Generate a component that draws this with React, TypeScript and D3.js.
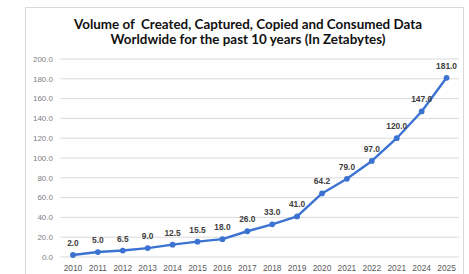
import React from 'react';
import * as d3 from 'd3';

const years = ['2010', '2011', '2012', '2013', '2014', '2015', '2016', '2017', '2018', '2019', '2020', '2021', '2022', '2021', '2024', '2025'];
const volumes = [2.0, 5.0, 6.5, 9.0, 12.5, 15.5, 18.0, 26.0, 33.0, 41.0, 64.2, 79.0, 97.0, 120.0, 147.0, 181.0];
const yTicks = [0, 20, 40, 60, 80, 100, 120, 140, 160, 180, 200];
const titleLines = ['Volume of  Created, Captured, Copied and Consumed Data', 'Worldwide for the past 10 years (In Zetabytes)'];

function App() {
  const width = 469, height = 274;

  // x as band over index, since the labels repeat "2021"
  const x = d3.scaleBand<number>()
    .domain(years.map((d, i) => i))
    .range([60.5, 459]);
  const y = d3.scaleLinear()
    .domain([0, 200])
    .range([257, 59]);

  const cx = (i: number) => (x(i) as number) + x.bandwidth() / 2;

  const line = d3.line<number>()
    .x((d, i) => cx(i))
    .y(d => y(d));

  return (
    <svg width={width} height={height} style={{ position: 'absolute', left: 0, top: 0, background: '#fff' }}>
      {/* chart frame */}
      <rect x={25.5} y={7.5} width={438} height={280} fill="#fff" stroke="#d9d9d9" strokeWidth={1} />

      {/* title */}
      {titleLines.map((t, i) => (
        <text key={i} x={248} y={28.5 + i * 15} textAnchor="middle" style={{ whiteSpace: 'pre' }}
          fontFamily="Lato" fontWeight="bold" fontSize={13.4} fill="#111">{t}</text>
      ))}

      {/* gridlines + y labels */}
      {yTicks.map(t => (
        <g key={t}>
          <line x1={60.5} x2={459} y1={y(t)} y2={y(t)} stroke="#d9d9d9" strokeWidth={1} />
          <text x={53} y={y(t)} dy="0.35em" textAnchor="end"
            fontFamily="Liberation Sans" fontSize={8} fill="#808080">{t.toFixed(1)}</text>
        </g>
      ))}

      {/* x labels */}
      {years.map((yr, i) => (
        <text key={i} x={cx(i)} y={268} dy="0.35em" textAnchor="middle"
          fontFamily="Liberation Sans" fontSize={8.4} fill="#595959">{yr}</text>
      ))}

      {/* line */}
      <path d={line(volumes) || ''} fill="none" stroke="#3c72d2" strokeWidth={2.4} strokeLinejoin="round" />
      {volumes.map((v, i) => (
        <circle key={i} cx={cx(i)} cy={y(v)} r={2.9} fill="#3c72d2" />
      ))}

      {/* data labels */}
      {volumes.map((v, i) => (
        <text key={i} x={cx(i)} y={y(v) - 12} dy="0.35em" textAnchor="middle"
          fontFamily="Liberation Sans" fontWeight="bold" fontSize={8.4} fill="#404040">{v.toFixed(1)}</text>
      ))}
    </svg>
  );
}

export default App;
